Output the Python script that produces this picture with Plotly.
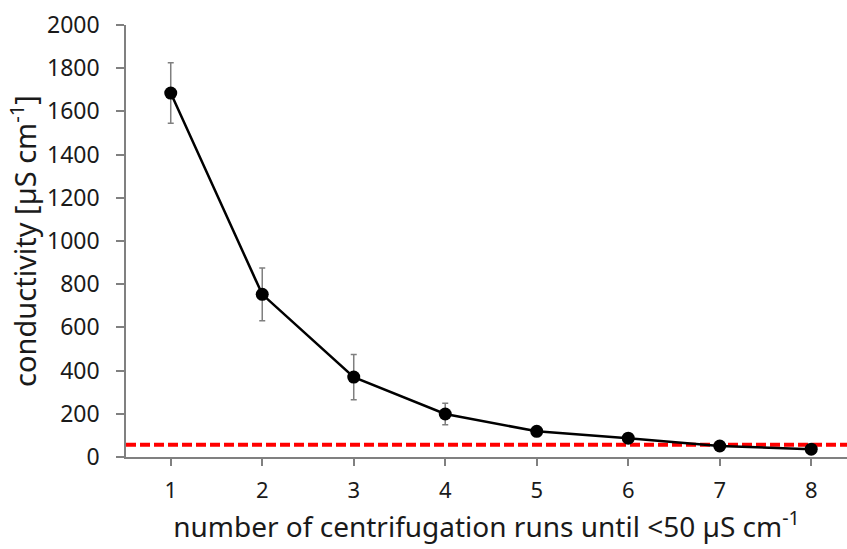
import plotly.graph_objects as go

runs = [1, 2, 3, 4, 5, 6, 7, 8]
conductivity = [1685, 753, 370, 199, 119, 87, 51, 36]
error = [140, 122, 105, 50, 8, 6, 5, 4]
threshold = 57
x_title = "number of centrifugation runs until <50 µS cm<sup>-1</sup>"
y_title = "conductivity [µS cm<sup>-1</sup>]"

FONT = "Noto Sans, Open Sans, sans-serif"

fig = go.Figure()
fig.add_trace(go.Scatter(
    x=runs, y=conductivity,
    mode="lines+markers",
    line=dict(color="black", width=2.5),
    marker=dict(color="black", size=13),
    error_y=dict(type="data", array=error, visible=True,
                 color="#7f7f7f", thickness=1.5, width=3),
    showlegend=False,
))

fig.add_shape(type="line", xref="paper", x0=0, x1=1, yref="y",
              y0=threshold, y1=threshold,
              line=dict(color="#ff0000", width=4, dash="10px,4px"),
              layer="below")

fig.update_layout(
    width=847, height=549,
    margin=dict(l=126, r=0, t=25, b=92),
    plot_bgcolor="white", paper_bgcolor="white",
    font=dict(family=FONT, color="#1a1a1a", size=22),
    xaxis=dict(
        range=[0.511, 8.391], tickvals=runs, ticktext=[str(r) for r in runs],
        showline=True, linecolor="#808080", linewidth=1.5,
        ticks="outside", ticklen=7, tickcolor="#808080", tickwidth=1.5,
        showgrid=False, zeroline=False, automargin=False,
        tickfont=dict(size=22), ticklabelstandoff=6,
        title=dict(text=x_title, font=dict(size=28), standoff=12),
    ),
    yaxis=dict(
        range=[0, 2000], tickvals=list(range(0, 2001, 200)),
        showline=True, linecolor="#808080", linewidth=1.5,
        ticks="outside", ticklen=8, tickcolor="#808080", tickwidth=1.5,
        showgrid=False, zeroline=False, automargin=False,
        tickfont=dict(size=23), ticklabelstandoff=12,
        title=dict(text=y_title, font=dict(size=29), standoff=2),
    ),
)

fig.write_html(
    "out.html",
    config={"displayModeBar": False},
    post_script="document.body.style.margin='0';document.body.style.overflow='hidden';",
)
